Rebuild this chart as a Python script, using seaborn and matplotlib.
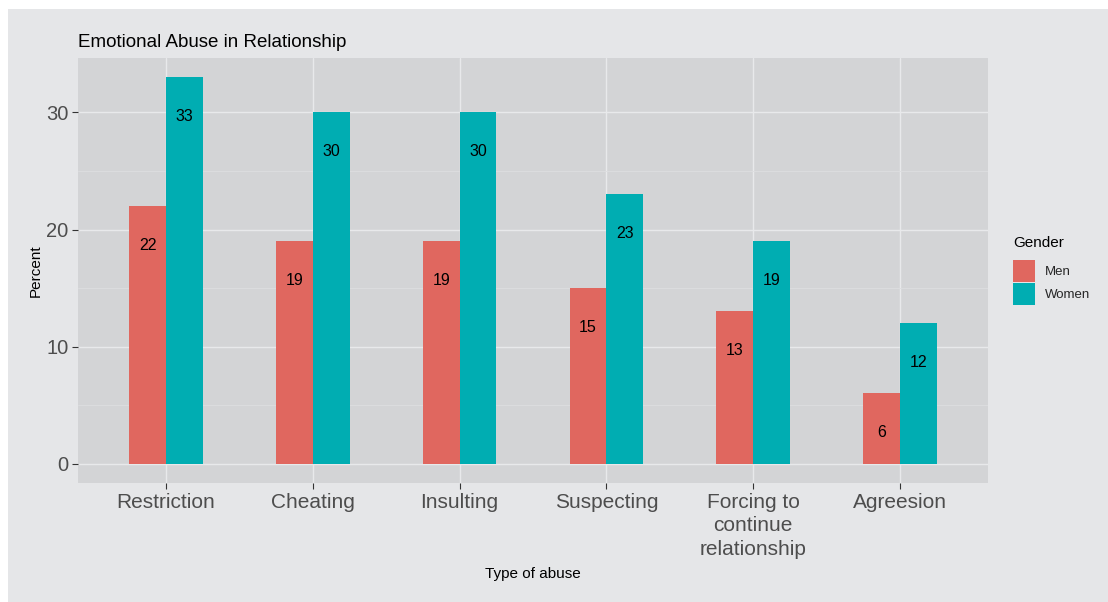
import matplotlib
matplotlib.use("Agg")
import matplotlib.pyplot as plt
import seaborn as sns
import pandas as pd
from matplotlib.patches import Rectangle
from matplotlib.ticker import MultipleLocator

categories = ["Restriction", "Cheating", "Insulting", "Suspecting",
              "Forcing to\ncontinue\nrelationship", "Agreesion"]
men = [22, 19, 19, 15, 13, 6]
women = [33, 30, 30, 23, 19, 12]
genders = ["Men", "Women"]
colors = ["#E0675F", "#00ADB2"]

df = pd.DataFrame({
    "Type": categories * 2,
    "Percent": men + women,
    "Gender": ["Men"] * len(men) + ["Women"] * len(women),
})

sns.set_style("white")
plt.rcParams["font.family"] = ["Liberation Sans", "DejaVu Sans"]

fig = plt.figure(figsize=(11.08, 6.02), dpi=100)
fig.patch.set_facecolor("white")
fig.patches.append(Rectangle((8 / 1108, 0), 1 - 8 / 1108, 1 - 9 / 602,
                             transform=fig.transFigure, facecolor="#E5E6E8",
                             edgecolor="none", zorder=-10))

ax = fig.add_axes([78 / 1108, 1 - 483 / 602, 910 / 1108, 425 / 602])
ax.set_facecolor("#D3D4D6")

sns.barplot(data=df, x="Type", y="Percent", hue="Gender", order=categories,
            hue_order=genders, palette=colors, width=0.5, gap=0,
            saturation=1, ax=ax, zorder=3, edgecolor="none", linewidth=0)

for cont in ax.containers:
    ax.bar_label(cont, fmt="%d", padding=-33.5, fontsize=11.5, color="black", zorder=4)

ax.set_xlim(-0.6, len(categories) - 0.4)
top = max(women)
ax.set_ylim(-0.05 * top, top * 1.05)
ax.yaxis.set_major_locator(MultipleLocator(10))
ax.yaxis.set_minor_locator(MultipleLocator(5))
ax.grid(which="major", axis="both", color="#E8E9EB", linewidth=1.0, zorder=0)
ax.grid(which="minor", axis="y", color="#DDDEE0", linewidth=0.6, zorder=0)
ax.set_axisbelow(True)
for s in ax.spines.values():
    s.set_visible(False)

ax.tick_params(axis="both", which="major", length=4, width=0.8, color="#333333",
               labelcolor="#4D4D4D", pad=3, bottom=True, left=True)
ax.tick_params(axis="y", which="minor", length=0)
ax.tick_params(axis="x", labelsize=15)
ax.tick_params(axis="y", labelsize=14.5)
for lab in ax.get_xticklabels():
    lab.set_linespacing(1.3)
    lab.set_ha("center")

ax.set_xlabel("Type of abuse", fontsize=11, color="black", labelpad=6)
ax.set_ylabel("Percent", fontsize=11, color="black", labelpad=2)
ax.set_title("Emotional Abuse in Relationship", loc="left", fontsize=13.5,
             color="black", pad=8)

ax.legend_.remove()
fig.text(1013 / 1108, 1 - 243 / 602, "Gender", fontsize=11, color="black",
         ha="left", va="center")
handles = [Rectangle((0, 0), 1, 1, facecolor=c, edgecolor="none") for c in colors]
leg = fig.legend(handles, genders, loc="upper left",
                 bbox_to_anchor=(1013 / 1108, 1 - 260 / 602), frameon=False,
                 fontsize=9.5, handlelength=1.65,
                 handleheight=2.2, labelspacing=0.08, handletextpad=0.8,
                 borderaxespad=0, borderpad=0)

fig.savefig("out.png", dpi=100, facecolor=fig.get_facecolor())
